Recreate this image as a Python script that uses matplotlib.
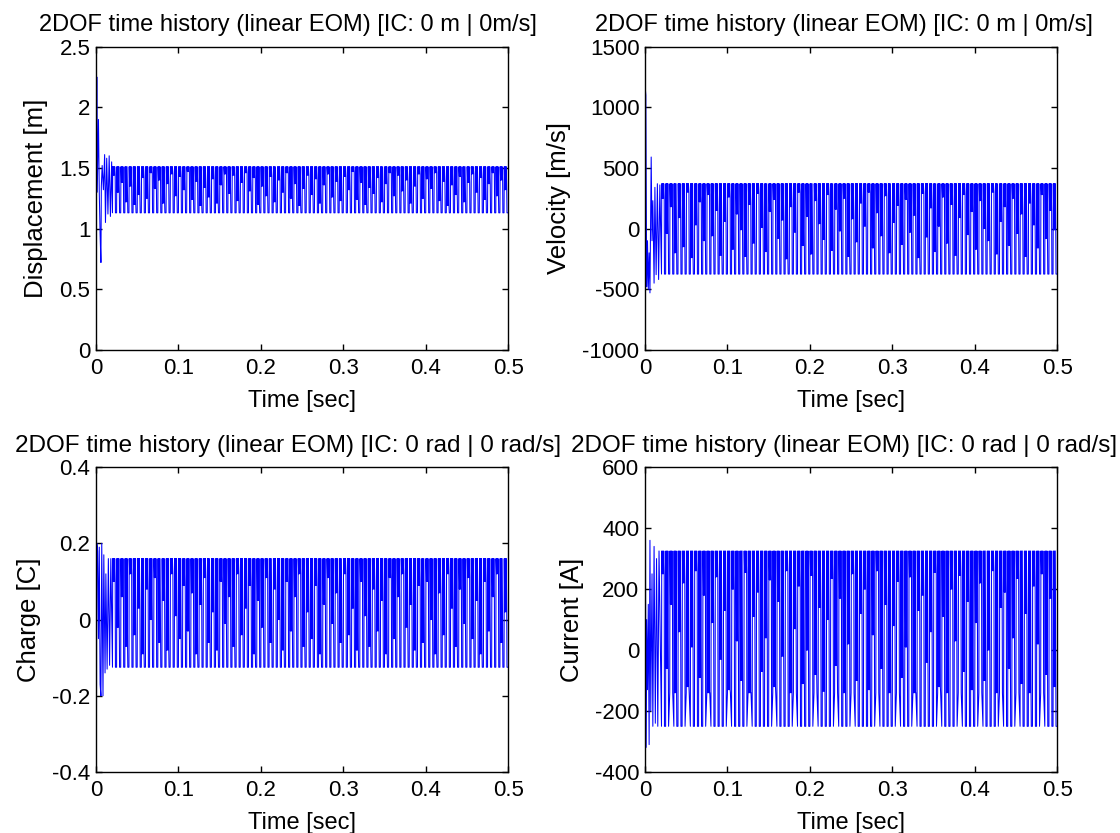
import numpy as np
import matplotlib
matplotlib.use('Agg')
import matplotlib.pyplot as plt
from matplotlib.ticker import FuncFormatter

plt.rcParams['font.family'] = ['Liberation Sans', 'DejaVu Sans']

# ---- transient part (start of each record) ----
disp_t0 = [0, 0.0005, 0.001, 0.0015, 0.003, 0.004, 0.005, 0.006, 0.0065, 0.0075, 0.009,
           0.0105, 0.0115, 0.013, 0.0145, 0.016, 0.0175, 0.019]
disp_y0 = [0, 1.3, 2.25, 1.3, 1.9, 1.3, 0.95, 0.72, 1.35, 1.52, 1.32,
           1.61, 1.05, 1.58, 1.12, 1.6, 1.1, 1.55]

vel_t0 = [0, 0.0003, 0.001, 0.002, 0.003, 0.004, 0.005, 0.006, 0.0075, 0.0085, 0.0095,
          0.011, 0.012, 0.0135, 0.015, 0.0165, 0.018]
vel_y0 = [0, 1160, 1100, -480, -100, -500, -200, -530, 590, -100, 230,
          -450, 340, -380, 370, -420, 360]

chg_t0 = [0, 0.0005, 0.001, 0.002, 0.003, 0.004, 0.005, 0.006, 0.007, 0.0085, 0.0095,
          0.011, 0.012, 0.0135, 0.015, 0.0165, 0.018]
chg_y0 = [0, -0.36, 0.2, 0.18, -0.05, 0.19, -0.17, -0.2, 0.2, -0.2, 0.17,
          -0.14, 0.12, -0.13, 0.16, -0.12, 0.16]

cur_t0 = [0, 0.0005, 0.001, 0.002, 0.003, 0.004, 0.005, 0.006, 0.007, 0.0085, 0.0095,
          0.011, 0.0125, 0.014, 0.0155, 0.017]
cur_y0 = [0, 510, -320, 100, -130, 150, -310, 360, -200, 250, -250,
          340, -240, 300, -250, 325]

# ---- steady oscillation: per-cycle levels (top, inner, bottom) ----
t_start = 0.02
period = 0.005

disp_top, disp_bot = 1.51, 1.13
disp_inner = [1.44, 1.30, 1.38, 1.22, 1.35, 1.20, 1.28, 1.42, 1.25, 1.46, 1.33, 1.40, 1.21, 1.37, 1.45, 1.27, 1.43, 1.32, 1.47, 1.24,
              1.39, 1.19, 1.34, 1.26, 1.41, 1.21, 1.36, 1.45, 1.29, 1.44, 1.23, 1.38, 1.46, 1.31, 1.42, 1.20, 1.35, 1.27, 1.43, 1.22,
              1.40, 1.30, 1.46, 1.25, 1.37, 1.19, 1.33, 1.44, 1.28, 1.41, 1.21, 1.36, 1.45, 1.26, 1.39, 1.23, 1.43, 1.32, 1.47, 1.24,
              1.38, 1.20, 1.34, 1.29, 1.42, 1.22, 1.37, 1.46, 1.27, 1.44, 1.31, 1.40, 1.21, 1.35, 1.45, 1.25, 1.41, 1.33, 1.46, 1.23,
              1.39, 1.19, 1.36, 1.28, 1.43, 1.22, 1.38, 1.45, 1.30, 1.42, 1.24, 1.37, 1.46, 1.27, 1.40, 1.32]

vel_top, vel_bot = 370, -375
vel_inner = [250, -40, 180, -200, 90, -150, 300, -240, 30, 220, -100, 280, -60, 150, -220, 60, 260, -170, 120, -10,
             -230, 200, -120, 290, 10, -190, 140, 240, -80, 70, -250, 180, -30, 300, -140, 100, -210, 230, 40, -90,
             280, -180, 160, -20, 250, -230, 80, -110, 210, 20, 300, -160, 130, -60, 270, -200, 50, 190, -130, 240,
             -30, 110, -240, 290, -70, 170, -190, 20, 260, -120, 200, -220, 90, 280, -50, 140, -170, 230, 0, -100,
             300, -210, 60, 180, -140, 250, -40, 120, -230, 210, 30, -160, 280, -80, 150, -10]

chg_top, chg_bot = 0.16, -0.125
chg_inner = [0.10, -0.02, 0.06, -0.07, 0.12, -0.04, 0.03, -0.09, 0.08, 0.00, 0.11, -0.06, 0.05, -0.08, 0.12, 0.01, -0.05, 0.09, -0.03, 0.07,
             -0.09, 0.04, 0.11, -0.06, 0.02, -0.08, 0.10, -0.01, 0.06, -0.07, 0.12, -0.04, 0.03, 0.09, -0.09, 0.05, -0.02, 0.11, -0.06, 0.08,
             0.00, -0.08, 0.10, -0.03, 0.06, 0.12, -0.07, 0.02, -0.05, 0.09, -0.09, 0.04, 0.11, -0.01, 0.07, -0.06, 0.12, -0.04, 0.03, -0.08,
             0.10, 0.01, -0.07, 0.08, -0.03, 0.05, -0.09, 0.11, -0.05, 0.06, 0.12, -0.02, 0.04, -0.08, 0.09, -0.06, 0.10, 0.00, -0.09, 0.07,
             -0.04, 0.12, 0.03, -0.07, 0.08, -0.01, 0.11, -0.05, 0.05, -0.09, 0.10, -0.03, 0.06, 0.12, -0.06, 0.02]

cur_top = 325
cur_inner = [250, -60, 150, -140, 60, 220, -120, 10, 260, -90, 180, -140, 90, 240, -30, 130, -130, 200, 30, -100,
             255, -140, 110, 190, -70, 40, 230, -120, 160, -20, 260, -140, 70, 210, -110, 0, 245, -80, 140, -135,
             100, 235, -50, 170, -140, 20, 250, -100, 120, 200, -130, 50, 260, -60, 150, -140, 80, 225, -90, 10,
             240, -140, 130, 180, -40, 60, 255, -120, 110, -140, 200, 30, 245, -70, 160, -130, 90, 220, -100, 0,
             260, -140, 140, 190, -60, 40, 235, -110, 120, -140, 210, 20, 250, -80, 170, -120]
cur_bot = [-250, -250, -140, -250, -250, -250, -140, -250, -250, -250, -250, -140, -250, -250, -250, -250, -140, -250, -250, -250,
           -250, -140, -250, -250, -250, -250, -250, -140, -250, -250, -250, -250, -140, -250, -250, -250, -250, -140, -250, -250,
           -250, -250, -140, -250, -250, -250, -140, -250, -250, -250, -250, -250, -140, -250, -250, -250, -250, -140, -250, -250,
           -250, -140, -250, -250, -250, -250, -250, -140, -250, -250, -250, -250, -140, -250, -250, -250, -250, -140, -250, -250,
           -250, -250, -140, -250, -250, -250, -140, -250, -250, -250, -250, -250, -140, -250, -250, -250]


def build(t0, y0, top, inner, bot):
    # chain transient samples and one cycle per listed level
    t = list(t0)
    y = list(y0)
    n = len(inner)
    if np.isscalar(bot):
        bot = [bot] * n
    offs = [0.0, 0.0003, 0.0009, 0.0015, 0.0021, 0.0027, 0.0033, 0.0036]
    for i in range(n):
        c = t_start + i * period
        lv = [bot[i], top, inner[i], top, inner[i], top, inner[i], bot[i]]
        for o, v in zip(offs, lv):
            t.append(c + o)
            y.append(v)
    t.append(0.5)
    y.append(bot[-1])
    return np.array(t), np.array(y)


panels = [
    (build(disp_t0, disp_y0, disp_top, disp_inner, disp_bot), 'Displacement [m]', (0, 2.5), 0.5,
     '2DOF time history (linear EOM) [IC: 0 m | 0m/s]'),
    (build(vel_t0, vel_y0, vel_top, vel_inner, vel_bot), 'Velocity [m/s]', (-1000, 1500), 500,
     '2DOF time history (linear EOM) [IC: 0 m | 0m/s]'),
    (build(chg_t0, chg_y0, chg_top, chg_inner, chg_bot), 'Charge [C]', (-0.4, 0.4), 0.2,
     '2DOF time history (linear EOM) [IC: 0 rad | 0 rad/s]'),
    (build(cur_t0, cur_y0, cur_top, cur_inner, cur_bot), 'Current [A]', (-400, 600), 200,
     '2DOF time history (linear EOM) [IC: 0 rad | 0 rad/s]'),
]

fig = plt.figure(figsize=(11.2, 8.33), dpi=100)
rects = [[0.0857, 0.580, 0.368, 0.364], [0.5759, 0.580, 0.368, 0.364],
         [0.0857, 0.0732, 0.368, 0.366], [0.5759, 0.0732, 0.368, 0.366]]
title_x = [0.466, 0.483, 0.466, 0.483]
title_fs = [17, 17, 17.5, 17.5]

fmt = FuncFormatter(lambda v, p: '%g' % round(v, 6))

for k, (rect, ((t, y), ylab, ylim, ystep, title)) in enumerate(zip(rects, panels)):
    ax = fig.add_axes(rect)
    ax.plot(t, y, color='#0000ff', linewidth=0.75)
    ax.set_xlim(0, 0.5)
    ax.set_ylim(*ylim)
    ax.set_xticks(np.arange(0, 0.51, 0.1))
    ax.set_yticks(np.arange(ylim[0], ylim[1] + ystep / 2, ystep))
    ax.xaxis.set_major_formatter(fmt)
    ax.yaxis.set_major_formatter(fmt)
    ax.tick_params(direction='in', top=True, right=True, length=4, width=1, labelsize=16)
    ax.tick_params(axis='x', pad=6)
    ax.tick_params(axis='y', pad=4)
    for s in ax.spines.values():
        s.set_linewidth(1)
    ax.set_xlabel('Time [sec]', fontsize=17, labelpad=8)
    ax.set_ylabel(ylab, fontsize=18.5, labelpad=8)
    ttl = ax.set_title(title, fontsize=title_fs[k], pad=11)
    ttl.set_x(title_x[k])

fig.savefig('out.png', dpi=100)
